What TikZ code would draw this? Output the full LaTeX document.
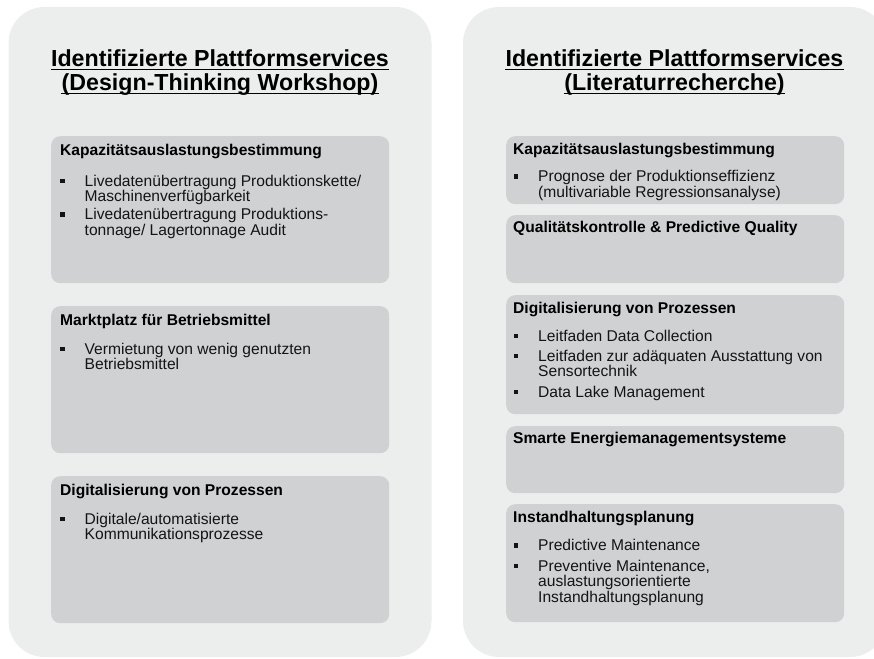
\documentclass[tikz,border=0pt]{standalone}
\usepackage{fontspec}
\setmainfont{Liberation Sans}
\definecolor{panelgray}{RGB}{236,237,237}
\definecolor{boxgray}{RGB}{208,209,211}
\definecolor{txt}{RGB}{20,20,20}
\newcommand{\titlefont}{\fontsize{23.2}{24}\selectfont\bfseries}
\newcommand{\headfont}{\fontsize{15.6}{16}\selectfont\bfseries}
\newcommand{\bulfont}{\fontsize{15.6}{15.8}\selectfont}
\newcommand{\blines}[1]{\parbox[t]{320pt}{\raggedright #1}}
\tikzset{
  panel/.style={fill=panelgray, draw=none, rounded corners=36pt},
  ibox/.style={fill=boxgray, draw=none, rounded corners=9pt, inner sep=0pt, anchor=north west},
  ttl/.style={anchor=base, inner sep=0pt, font=\titlefont, text=black},
  uline/.style={line width=1.5pt, black},
  head/.style={anchor=base west, inner sep=0pt, font=\headfont, text=black},
  btext/.style={anchor=base west, inner sep=0pt, font=\bulfont, text=txt},
  bmark/.style={fill=txt, draw=none, minimum size=4.5pt, inner sep=0pt}
}
\begin{document}
\begin{tikzpicture}[x=1pt,y=-1pt]
\useasboundingbox (0,0) rectangle (874,658);
\clip (0,0) rectangle (874,658);
% panels
\path[panel] (8.5,7) rectangle (431.5,657);
\path[panel] (463,7) rectangle (886,657);
% titles
\node[ttl] (tl1) at (220,66.5) {Identifizierte Plattformservices};
\node[ttl] (tl2) at (220,90.5) {(Design-Thinking Workshop)};
\node[ttl] (tr1) at (674.5,66.5) {Identifizierte Plattformservices};
\node[ttl] (tr2) at (674.5,90.5) {(Literaturrecherche)};
\foreach \t in {tl1,tl2,tr1,tr2}
  \draw[uline] ([yshift=-3pt]\t.base west) -- ([yshift=-3pt]\t.base east);
% left boxes
\node[ibox, minimum width=338pt, minimum height=147pt] (lb1) at (51,136) {};
\node[ibox, minimum width=338pt, minimum height=147pt] (lb2) at (51,306) {};
\node[ibox, minimum width=338pt, minimum height=147pt] (lb3) at (51,476) {};
% right boxes
\node[ibox, minimum width=338pt, minimum height=68pt] (rb1) at (506,136) {};
\node[ibox, minimum width=338pt, minimum height=68pt] (rb2) at (506,215) {};
\node[ibox, minimum width=338pt, minimum height=119pt] (rb3) at (506,295) {};
\node[ibox, minimum width=338pt, minimum height=67pt] (rb4) at (506,426) {};
\node[ibox, minimum width=338pt, minimum height=118pt] (rb5) at (506,504) {};
% left box 1
\node[head] (lh1) at (60,155.5) {Kapazitätsauslastungsbestimmung};
\node[bmark] (lm11) at (62.5,181) {};
\node[btext] (lt11) at (84.5,186) {\blines{Livedatenübertragung Produktionskette/\\Maschinenverfügbarkeit}};
\node[bmark] (lm12) at (62.5,214.5) {};
\node[btext] (lt12) at (84.5,219.5) {\blines{Livedatenübertragung Produktions-\\tonnage/ Lagertonnage Audit}};
% left box 2
\node[head] (lh2) at (60,325) {Marktplatz für Betriebsmittel};
\node[bmark] (lm21) at (62.5,349) {};
\node[btext] (lt21) at (84.5,354) {\blines{Vermietung von wenig genutzten\\Betriebsmittel}};
% left box 3
\node[head] (lh3) at (60,495) {Digitalisierung von Prozessen};
\node[bmark] (lm31) at (62.5,519) {};
\node[btext] (lt31) at (84.5,524) {\blines{Digitale/automatisierte\\Kommunikationsprozesse}};
% right box 1
\node[head] (rh1) at (513,154) {Kapazitätsauslastungsbestimmung};
\node[bmark] (rm11) at (516,176.7) {};
\node[btext] (rt11) at (538,181.7) {\blines{Prognose der Produktionseffizienz\\(multivariable Regressionsanalyse)}};
% right box 2
\node[head] (rh2) at (513,232.5) {Qualitätskontrolle \& Predictive Quality};
% right box 3
\node[head] (rh3) at (513,313) {Digitalisierung von Prozessen};
\node[bmark] (rm31) at (516,336) {};
\node[btext] (rt31) at (538,341) {\blines{Leitfaden Data Collection}};
\node[bmark] (rm32) at (516,356) {};
\node[btext] (rt32) at (538,361) {\blines{Leitfaden zur adäquaten Ausstattung von\\Sensortechnik}};
\node[bmark] (rm33) at (516,392) {};
\node[btext] (rt33) at (538,397) {\blines{Data Lake Management}};
% right box 4
\node[head] (rh4) at (513,443.5) {Smarte Energiemanagementsysteme};
% right box 5
\node[head] (rh5) at (513,522) {Instandhaltungsplanung};
\node[bmark] (rm51) at (516,545.5) {};
\node[btext] (rt51) at (538,550.5) {\blines{Predictive Maintenance}};
\node[bmark] (rm52) at (516,566) {};
\node[btext] (rt52) at (538,571) {\blines{Preventive Maintenance,\\auslastungsorientierte\\Instandhaltungsplanung}};
\end{tikzpicture}
\end{document}
